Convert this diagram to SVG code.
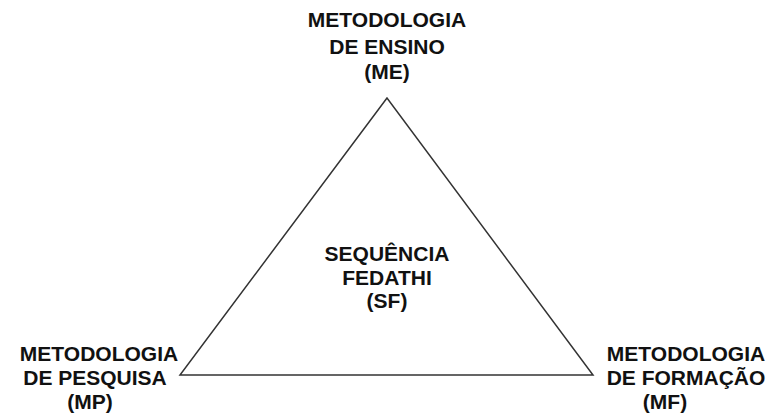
<svg xmlns="http://www.w3.org/2000/svg" width="770" height="419" viewBox="0 0 770 419">
<style>
.t{font-family:"Liberation Sans",Arial,sans-serif;font-weight:bold;font-size:21px;fill:#111;text-anchor:middle}
</style>
<rect width="770" height="419" fill="#fff"/>
<g id="connectors">
<polygon points="387,98 180,375 593,375" fill="none" stroke="#333" stroke-width="1.5"/>
</g>
<g id="ME">
<text class="t" x="387" y="27">METODOLOGIA</text>
<text class="t" x="387" y="54">DE ENSINO</text>
<text class="t" x="387" y="79">(ME)</text>
</g>
<g id="SF">
<text class="t" x="387" y="261">SEQUÊNCIA</text>
<text class="t" x="387" y="285">FEDATHI</text>
<text class="t" x="387" y="308">(SF)</text>
</g>
<g id="MP">
<text class="t" x="99" y="361">METODOLOGIA</text>
<text class="t" x="95" y="385">DE PESQUISA</text>
<text class="t" x="90" y="409">(MP)</text>
</g>
<g id="MF">
<text class="t" x="686" y="361">METODOLOGIA</text>
<text class="t" x="686" y="385">DE FORMAÇÃO</text>
<text class="t" x="665" y="409">(MF)</text>
</g>
</svg>
